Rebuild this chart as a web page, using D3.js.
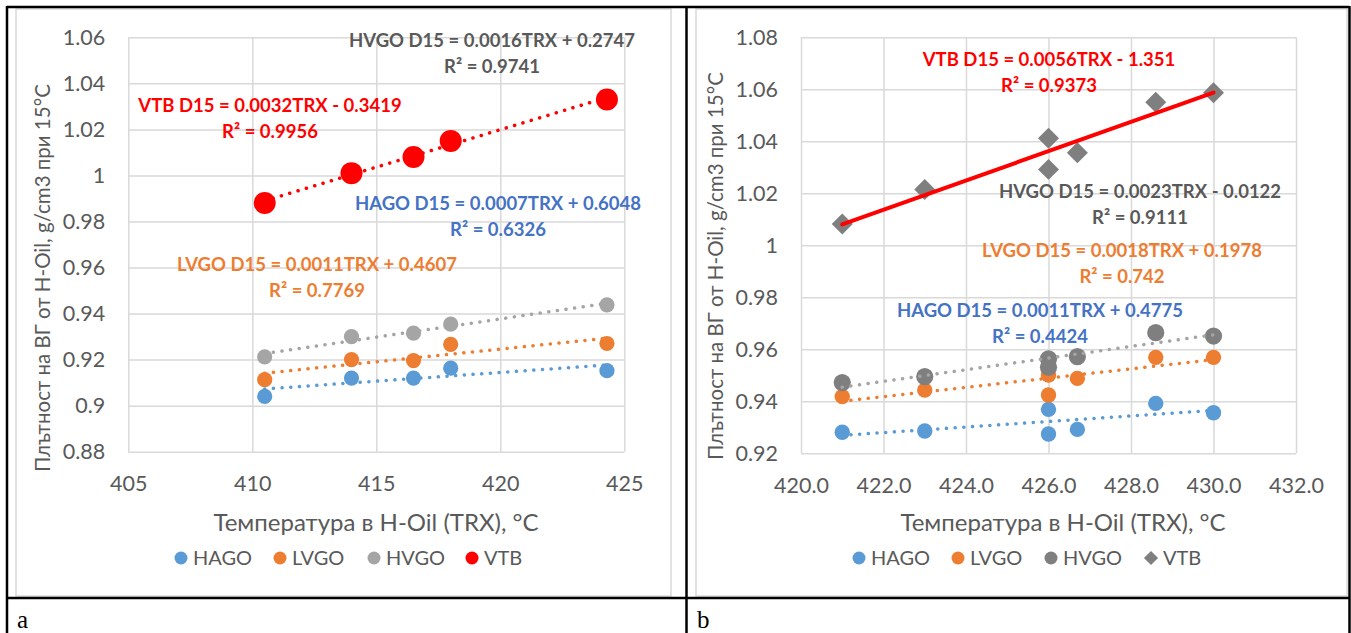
<!DOCTYPE html>
<html>
<head>
<meta charset="utf-8">
<script src="https://cdn.jsdelivr.net/npm/d3@7.9.0/dist/d3.min.js"></script>
<style>
  body { margin: 0; background: #fff; }
  svg { display: block; font-family: Lato, "Open Sans", sans-serif; }
</style>
</head>
<body>
<svg id="chart" width="1351" height="633"></svg>
<script>
// panel a data
const tempA = [410.5, 414, 416.5, 418, 424.3];
const hagoA = [0.904, 0.912, 0.912, 0.9163, 0.9152];
const lvgoA = [0.9113, 0.920, 0.9196, 0.9266, 0.927];
const hvgoA = [0.9212, 0.930, 0.9315, 0.9354, 0.9438];
const vtbA = [0.988, 1.001, 1.008, 1.015, 1.033];

// panel b data
const tempB = [421, 423, 426, 426, 426.7, 428.6, 430];
const hagoB = [0.9281, 0.9286, 0.9369, 0.9274, 0.9292, 0.9392, 0.9356];
const lvgoB = [0.9418, 0.9443, 0.9501, 0.9424, 0.9488, 0.9569, 0.9569];
const hvgoB = [0.9472, 0.9495, 0.9563, 0.9531, 0.9572, 0.9664, 0.9651];
const vtbB = [1.0082, 1.0215, 1.0412, 1.0292, 1.0356, 1.055, 1.0587];

const seriesNames = ["HAGO", "LVGO", "HVGO", "VTB"];

// tick labels
const xTicksA = [405, 410, 415, 420, 425];
const yTicksA = [0.88, 0.9, 0.92, 0.94, 0.96, 0.98, 1, 1.02, 1.04, 1.06];
const xTicksB = [420, 422, 424, 426, 428, 430, 432];
const yTicksB = [0.92, 0.94, 0.96, 0.98, 1, 1.02, 1.04, 1.06, 1.08];

// trendline labels
const eqA = {
  HVGO: ["HVGO D15 = 0.0016TRX + 0.2747", "R² = 0.9741"],
  VTB: ["VTB D15 = 0.0032TRX - 0.3419", "R² = 0.9956"],
  HAGO: ["HAGO D15 = 0.0007TRX + 0.6048", "R² = 0.6326"],
  LVGO: ["LVGO D15 = 0.0011TRX + 0.4607", "R² = 0.7769"]
};
const eqB = {
  VTB: ["VTB D15 = 0.0056TRX - 1.351", "R² = 0.9373"],
  HVGO: ["HVGO D15 = 0.0023TRX - 0.0122", "R² = 0.9111"],
  LVGO: ["LVGO D15 = 0.0018TRX + 0.1978", "R² = 0.742"],
  HAGO: ["HAGO D15 = 0.0011TRX + 0.4775", "R² = 0.4424"]
};

const yTitle = "Плътност на ВГ от H-Oil, g/cm3 при 15°C";
const xTitle = "Температура в H-Oil (TRX), °C";

const svg = d3.select("#chart");
const grid = "#D9D9D9";
const textGray = "#595959";

function fit(xs, ys) {
  const mx = d3.mean(xs), my = d3.mean(ys);
  let sxy = 0, sxx = 0;
  xs.forEach((x, i) => { sxy += (x - mx) * (ys[i] - my); sxx += (x - mx) ** 2; });
  const b = sxy / sxx;
  return x => my + b * (x - mx);
}

function drawPanel(p) {
  const g = svg.append("g");

  g.append("rect")
    .attr("x", p.box[0]).attr("y", p.box[1])
    .attr("width", p.box[2] - p.box[0]).attr("height", p.box[3] - p.box[1])
    .attr("fill", "#fff").attr("stroke", grid).attr("stroke-width", 1.5);

  const x = d3.scaleLinear().domain(p.xDomain).range(p.xRange);
  const y = d3.scaleLinear().domain(p.yDomain).range(p.yRange);
  const innerW = p.xRange[1] - p.xRange[0];
  const innerH = p.yRange[0] - p.yRange[1];

  const xAxis = g.append("g")
    .attr("transform", `translate(0,${p.yRange[0]})`)
    .call(d3.axisBottom(x).tickValues(p.xTicks).tickSize(-innerH).tickPadding(24).tickFormat(p.xFmt));
  const yAxis = g.append("g")
    .attr("transform", `translate(${p.xRange[0]},0)`)
    .call(d3.axisLeft(y).tickValues(p.yTicks).tickSize(-innerW).tickPadding(23).tickFormat(d3.format("")));

  [xAxis, yAxis].forEach(a => {
    a.select(".domain").remove();
    a.selectAll("line").attr("stroke", grid).attr("stroke-width", 1.5);
    a.selectAll("text").attr("fill", textGray).style("font-size", "21.5px")
      .style("font-family", "Lato, sans-serif");
  });

  // markers
  p.series.forEach(s => {
    const pts = s.values.map((v, i) => [p.temps[i], v]);
    if (s.shape === "diamond") {
      g.append("g").selectAll("path").data(pts).join("path")
        .attr("d", d3.symbol(d3.symbolSquare, s.size)())
        .attr("transform", d => `translate(${x(d[0])},${y(d[1])}) rotate(45)`)
        .attr("fill", s.color);
    } else {
      g.append("g").selectAll("circle").data(pts).join("circle")
        .attr("cx", d => x(d[0])).attr("cy", d => y(d[1]))
        .attr("r", s.r).attr("fill", s.color);
    }
  });

  // trendlines
  p.series.forEach(s => {
    const f = fit(p.temps, s.values);
    const ends = d3.extent(p.temps);
    const path = g.append("path")
      .datum(ends)
      .attr("d", d3.line().x(d => x(d)).y(d => y(f(d))))
      .attr("fill", "none")
      .attr("stroke", s.trend)
      .attr("stroke-width", s.trendWidth)
      .attr("stroke-linecap", "round");
    if (s.dotted) path.attr("stroke-dasharray", "0.1 8.6");
  });

  // equations
  p.labels.forEach(l => {
    const lines = p.eq[l.name];
    lines.forEach((t, i) => {
      g.append("text")
        .attr("x", l.x).attr("y", l.y + i * 26.5)
        .attr("dy", "0.36em")
        .attr("text-anchor", "middle")
        .attr("fill", l.color)
        .style("font-weight", "bold").style("font-size", "18.5px")
        .text(t);
    });
  });

  // axis titles
  g.append("text")
    .attr("x", p.xTitlePos[0]).attr("y", p.xTitlePos[1]).attr("dy", "0.36em")
    .attr("text-anchor", "middle").attr("fill", textGray)
    .style("font-size", "24px").text(xTitle);
  g.append("text")
    .attr("transform", `translate(${p.yTitlePos[0]},${p.yTitlePos[1]}) rotate(-90)`)
    .attr("dy", "0.36em")
    .attr("text-anchor", "middle").attr("fill", textGray)
    .style("font-size", "20.5px").text(yTitle);

  // legend
  const leg = g.append("g");
  p.series.forEach((s, i) => {
    const lx = p.legendX[i], ly = p.legendY;
    if (s.shape === "diamond") {
      leg.append("path")
        .attr("d", d3.symbol(d3.symbolSquare, 100)())
        .attr("transform", `translate(${lx},${ly}) rotate(45)`)
        .attr("fill", s.color);
    } else {
      leg.append("circle").attr("cx", lx).attr("cy", ly).attr("r", 6.5).attr("fill", s.color);
    }
    leg.append("text")
      .attr("x", lx + 12).attr("y", ly).attr("dy", "0.36em")
      .attr("fill", textGray).style("font-size", "20px")
      .text(seriesNames[i]);
  });
}

drawPanel({
  box: [16, 9, 671, 596],
  xDomain: [405, 425], xRange: [128.3, 624.3],
  yDomain: [0.88, 1.06], yRange: [451.7, 37.3],
  xTicks: xTicksA, yTicks: yTicksA, xFmt: d3.format("d"),
  temps: tempA,
  series: [
    { values: hagoA, color: "#5B9BD5", r: 7.6, trend: "#5B9BD5", trendWidth: 3.5, dotted: true },
    { values: lvgoA, color: "#ED7D31", r: 7.6, trend: "#ED7D31", trendWidth: 3.5, dotted: true },
    { values: hvgoA, color: "#A5A5A5", r: 7.6, trend: "#A5A5A5", trendWidth: 3.5, dotted: true },
    { values: vtbA, color: "#FF0000", r: 11, trend: "#FF0000", trendWidth: 3.5, dotted: true }
  ],
  eq: eqA,
  labels: [
    { name: "HVGO", x: 492, y: 40, color: textGray },
    { name: "VTB", x: 270, y: 105, color: "#FF0000" },
    { name: "HAGO", x: 498, y: 203, color: "#4472C4" },
    { name: "LVGO", x: 317, y: 264, color: "#ED7D31" }
  ],
  xTitlePos: [376, 522],
  yTitlePos: [43, 278],
  legendX: [181, 280, 374, 472],
  legendY: 558
});

drawPanel({
  box: [696, 9, 1347, 596],
  xDomain: [420, 432], xRange: [801, 1296],
  yDomain: [0.92, 1.08], yRange: [453.3, 37.3],
  xTicks: xTicksB, yTicks: yTicksB, xFmt: d3.format(".1f"),
  temps: tempB,
  series: [
    { values: hagoB, color: "#5B9BD5", r: 7.7, trend: "#5B9BD5", trendWidth: 3.5, dotted: true },
    { values: lvgoB, color: "#ED7D31", r: 7.7, trend: "#ED7D31", trendWidth: 3.5, dotted: true },
    { values: hvgoB, color: "#7F7F7F", r: 8.6, trend: "#A5A5A5", trendWidth: 3.5, dotted: true },
    { values: vtbB, color: "#7F7F7F", shape: "diamond", size: 220, trend: "#FF0000", trendWidth: 4, dotted: false }
  ],
  eq: eqB,
  labels: [
    { name: "VTB", x: 1049, y: 59, color: "#FF0000" },
    { name: "HVGO", x: 1140, y: 191, color: textGray },
    { name: "LVGO", x: 1122, y: 250, color: "#ED7D31" },
    { name: "HAGO", x: 1040, y: 310, color: "#4472C4" }
  ],
  xTitlePos: [1063, 522],
  yTitlePos: [716, 266],
  legendX: [859, 958, 1051, 1151],
  legendY: 558
});

// table frame
const frame = svg.append("g").attr("stroke", "#000").attr("stroke-width", 2.5);
[[7, 7, 1349, 7], [7, 598, 1349, 598], [7, 6, 7, 633], [686.5, 6, 686.5, 633], [1349.5, 6, 1349.5, 633]]
  .forEach(l => frame.append("line").attr("x1", l[0]).attr("y1", l[1]).attr("x2", l[2]).attr("y2", l[3]));

svg.append("text").attr("x", 17).attr("y", 628)
  .style("font-family", "'Liberation Serif', serif").style("font-size", "25px").text("a");
svg.append("text").attr("x", 697).attr("y", 628)
  .style("font-family", "'Liberation Serif', serif").style("font-size", "25px").text("b");
</script>
</body>
</html>
